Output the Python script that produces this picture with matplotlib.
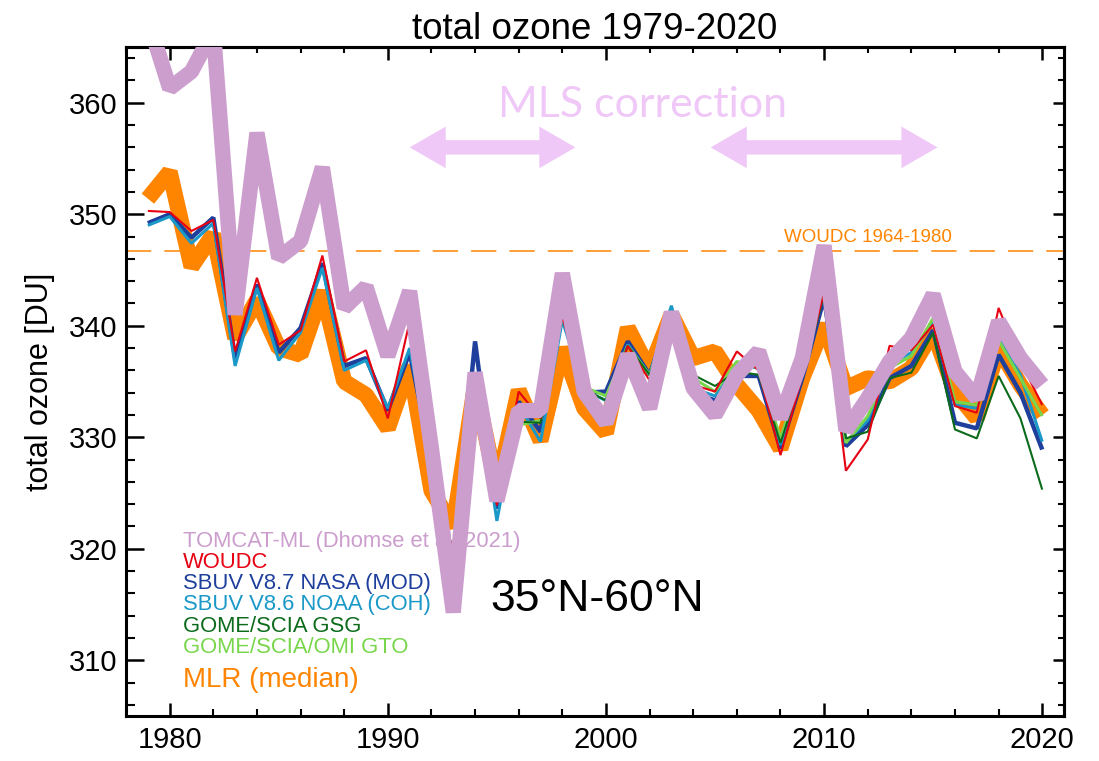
import numpy as np
import matplotlib
matplotlib.use('Agg')
import matplotlib.pyplot as plt
from matplotlib.ticker import MultipleLocator
from matplotlib.patches import FancyArrowPatch

plt.rcParams['font.family'] = ['Liberation Sans', 'DejaVu Sans']

# annual means, 35N-60N, DU
years = np.arange(1979, 2021)
years_gome = np.arange(1996, 2021)

tomcat = [367.5, 361.3, 362.8, 366.5, 341.0, 357.3, 346.1, 347.6, 354.2, 341.6,
          343.5, 337.3, 343.1, 329.0, 314.3, 335.8, 324.3, 332.4, 332.4, 344.7,
          334.1, 331.3, 337.4, 332.6, 341.2, 334.4, 332.0, 335.6, 337.7, 331.7,
          337.1, 347.2, 330.6, 333.5, 336.8, 338.9, 342.8, 335.9, 333.5, 340.4,
          337.1, 334.7]

mlr = [351.4, 353.8, 345.3, 348.2, 338.9, 342.3, 338.0, 337.4, 343.1, 335.0,
       333.8, 330.8, 336.4, 325.2, 322.0, 334.7, 325.4, 334.2, 329.7, 338.0,
       332.6, 330.4, 339.8, 336.0, 341.0, 337.1, 337.7, 334.7, 332.4, 329.0,
       335.3, 340.1, 334.4, 335.3, 335.0, 336.2, 339.5, 334.1, 331.7, 338.0,
       334.7, 332.0]

woudc = [350.3, 350.2, 348.5, 349.5, 337.7, 344.3, 338.3, 339.6, 346.3, 336.8,
         337.8, 331.7, 340.4, 328.5, 319.5, 335.0, 323.9, 334.1, 331.7, 340.8,
         334.0, 332.2, 338.2, 335.1, 341.3, 334.7, 334.1, 337.7, 336.0, 328.4,
         335.5, 343.0, 327.0, 329.8, 338.2, 337.8, 340.1, 332.8, 332.2, 341.6,
         336.8, 332.9]

sbuv_mod = [349.2, 350.0, 347.9, 349.7, 337.1, 343.7, 337.6, 339.8, 345.6, 336.4,
            337.1, 332.4, 337.6, 328.0, 319.0, 338.6, 323.6, 333.2, 330.5, 341.6,
            334.0, 334.1, 338.6, 335.6, 341.3, 334.0, 333.3, 335.5, 335.5, 329.0,
            335.3, 342.5, 329.2, 331.1, 335.3, 336.4, 339.6, 331.3, 330.8, 337.4,
            334.0, 328.9]

sbuv_coh = [349.0, 349.8, 347.4, 349.2, 336.4, 343.4, 336.9, 339.4, 345.2, 336.0,
            336.9, 332.6, 338.0, 327.8, 319.2, 335.5, 322.5, 332.9, 329.6, 340.5,
            334.2, 333.3, 338.3, 335.6, 341.8, 334.4, 333.7, 336.5, 336.2, 329.3,
            335.8, 343.0, 329.6, 331.5, 336.5, 337.6, 340.3, 332.9, 332.6, 338.9,
            335.6, 329.6]

gsg = [331.4, 331.3, 341.0, 334.3, 333.3, 338.2, 335.6, 341.3, 335.6, 334.6,
       335.9, 335.6, 329.5, 335.5, 342.8, 329.9, 330.5, 335.3, 335.8, 339.4,
       330.7, 329.9, 335.5, 331.7, 325.3]

gto = [331.1, 331.5, 341.0, 334.5, 333.7, 338.2, 335.6, 341.3, 335.3, 334.1,
       336.8, 336.2, 329.9, 335.8, 343.2, 329.5, 331.9, 336.2, 337.3, 340.7,
       333.2, 332.9, 338.7, 335.3, 331.9]

woudc_ref = 346.7          # WOUDC mean 1964-1980
mls_periods = [(1991.0, 1998.6), (2004.8, 2015.2)]

c_tomcat = '#CC9ECE'
c_mlr = '#FF8400'
c_woudc = '#E60012'
c_mod = '#1E3F9C'
c_coh = '#1A98C8'
c_gsg = '#0B6B1B'
c_gto = '#78D64B'
c_mls = '#F0C8F8'

fig = plt.figure(figsize=(10.99, 7.61), dpi=100)
ax = fig.add_axes([0.1147, 0.0591, 0.8535, 0.8791])

thick = dict(solid_joinstyle='bevel', solid_capstyle='butt')
ax.plot(years, mlr, color=c_mlr, lw=11.5, zorder=2, **thick)
ax.plot(years, sbuv_mod, color=c_mod, lw=3.2, zorder=3, **thick)
ax.plot(years, sbuv_coh, color=c_coh, lw=2.2, zorder=3, **thick)
ax.plot(years_gome, gto, color=c_gto, lw=2.2, zorder=3, **thick)
ax.plot(years_gome, gsg, color=c_gsg, lw=1.5, zorder=3, **thick)
ax.plot(years, woudc, color=c_woudc, lw=1.5, zorder=3, **thick)
ax.plot(years, tomcat, color=c_tomcat, lw=11, zorder=4, **thick)

ln = ax.axhline(woudc_ref, color=c_mlr, lw=1.1, zorder=1)
ln.set_dashes((16.5, 8.6))
ax.text(2012.0, woudc_ref + 1.2, 'WOUDC 1964-1980', color=c_mlr, fontsize=13.5,
        ha='center', va='center', zorder=1)

# MLS correction periods, double-headed arrows (one arrow each way,
# tail starts where the opposite head begins)
head_len = 26
for x0, x1 in mls_periods:
    for xa, xb in ((x0, x1), (x1, x0)):
        ax.add_patch(FancyArrowPatch((xa, 356.0), (xb, 356.0),
                     arrowstyle='simple,head_length=%d,head_width=30,tail_width=10' % head_len,
                     color=c_mls, lw=0, mutation_scale=1, shrinkA=head_len - 2,
                     shrinkB=0, zorder=5))
ax.text(2001.7, 359.8, 'MLS correction', color=c_mls, fontsize=31, family='Lato',
        ha='center', va='center', zorder=5)

ax.text(0.3883, 0.174, '35°N-60°N', transform=ax.transAxes, fontsize=32,
        ha='left', va='center', zorder=6)

labels = [('TOMCAT-ML (Dhomse et al. 2021)', c_tomcat),
          ('WOUDC', c_woudc),
          ('SBUV V8.7 NASA (MOD)', c_mod),
          ('SBUV V8.6 NOAA (COH)', c_coh),
          ('GOME/SCIA GSG', c_gsg),
          ('GOME/SCIA/OMI GTO', c_gto)]
for i, (txt, col) in enumerate(labels):
    ax.text(0.0608, 0.2614 - i * 0.0318, txt, color=col, fontsize=15.8,
            transform=ax.transAxes, ha='left', va='center', zorder=3)
ax.text(0.0608, 0.0538, 'MLR (median)', color=c_mlr, fontsize=20,
        transform=ax.transAxes, ha='left', va='center', zorder=3)

ax.set_xlim(1978, 2021)
ax.set_ylim(305, 365)
ax.xaxis.set_major_locator(MultipleLocator(10))
ax.xaxis.set_minor_locator(MultipleLocator(2))
ax.yaxis.set_minor_locator(MultipleLocator(2))
ax.set_yticks([310, 320, 330, 340, 350, 360])

ax.tick_params(axis='x', which='major', direction='in', length=9.5, width=1.8,
               labelsize=21, pad=7)
ax.tick_params(axis='x', which='minor', direction='in', length=4.7, width=1.5)
ax.tick_params(axis='y', which='major', direction='in', length=13, width=1.8,
               labelsize=21, pad=6)
ax.tick_params(axis='y', which='minor', direction='in', length=6.5, width=1.5)
for sp in ax.spines.values():
    sp.set_linewidth(2.2)

# shorter ticks on the top and right frame
top = ax.secondary_xaxis('top')
top.xaxis.set_major_locator(MultipleLocator(10))
top.xaxis.set_minor_locator(MultipleLocator(2))
top.tick_params(which='major', direction='in', length=9.5, width=1.8, labeltop=False)
top.tick_params(which='minor', direction='in', length=4.5, width=1.5)
top.spines['top'].set_linewidth(2.2)
right = ax.secondary_yaxis('right')
right.yaxis.set_major_locator(MultipleLocator(10))
right.yaxis.set_minor_locator(MultipleLocator(2))
right.tick_params(which='major', direction='in', length=8, width=1.8, labelright=False)
right.tick_params(which='minor', direction='in', length=4, width=1.5)
right.spines['right'].set_linewidth(2.2)

ax.set_ylabel('total ozone [DU]', fontsize=22, labelpad=10)
ax.set_title('total ozone 1979-2020', fontsize=26.5, pad=6)

fig.savefig('out.png', dpi=100)
